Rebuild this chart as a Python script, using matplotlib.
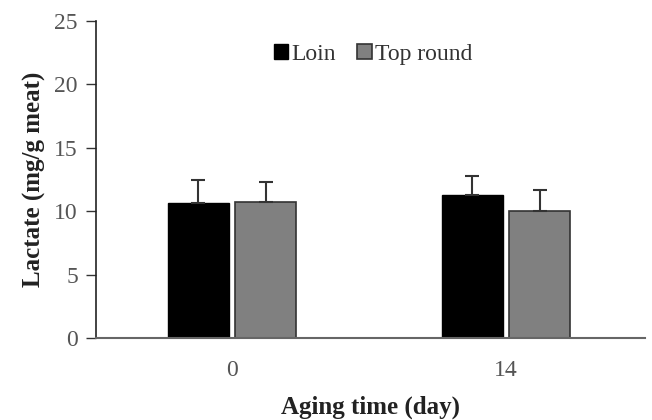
import matplotlib
matplotlib.use("Agg")
import matplotlib.pyplot as plt
import numpy as np

categories = ["0", "14"]
loin = [10.65, 11.3]
loin_err = [1.8, 1.5]
top_round = [10.7, 10.05]
top_round_err = [1.6, 1.6]
yticks = [0, 5, 10, 15, 20, 25]

plt.rcParams['font.family'] = ['Liberation Serif', 'DejaVu Serif']

fig = plt.figure(figsize=(6.52, 4.20), dpi=100)
ax = fig.add_axes([96/652, 1-338/420, (645-96)/652, (338-21)/420])

x = np.arange(len(categories))
w = 0.223
off = 0.123
ax.bar(x - off, loin, w, color='black', edgecolor='black', linewidth=1,
       yerr=[np.zeros(len(loin)), loin_err], error_kw=dict(ecolor='#333333', capsize=5, elinewidth=1.5, capthick=1.5),
       label='Loin')
ax.bar(x + off, top_round, w, color='#808080', edgecolor='#333333', linewidth=1.2,
       yerr=[np.zeros(len(top_round)), top_round_err], error_kw=dict(ecolor='#333333', capsize=5, elinewidth=1.5, capthick=1.5),
       label='Top round')

ax.set_xlim(-0.496, 1.507)
ax.set_ylim(0, 25)
ax.set_yticks(yticks)
ax.set_xticks(x)
ax.set_xticklabels(categories)
ax.tick_params(axis='x', length=0, labelsize=17, pad=16)
ax.tick_params(axis='y', length=7, width=1, direction='out', labelsize=17, colors='#333333', pad=6)
for lbl in ax.get_yticklabels() + ax.get_xticklabels():
    lbl.set_color('#555555')
ax.spines['top'].set_visible(False)
ax.spines['right'].set_visible(False)
ax.spines['left'].set_color('#222222')
ax.spines['bottom'].set_color('#666666')
ax.spines['left'].set_linewidth(1.2)
ax.spines['bottom'].set_linewidth(1.5)

ax.set_ylabel('Lactate (mg/g meat)', fontsize=18, fontweight='bold', color='#222222', labelpad=6)
ax.set_xlabel('Aging time (day)', fontsize=18, fontweight='bold', color='#222222', labelpad=10)

leg = ax.legend(loc='upper center', bbox_to_anchor=(0.505, 0.995), ncol=2, frameon=False,
                fontsize=17, handlelength=0.6, handleheight=0.6, handletextpad=0.15, columnspacing=0.9)
for t in leg.get_texts():
    t.set_color('#333333')

fig.savefig('out.png', dpi=100)
